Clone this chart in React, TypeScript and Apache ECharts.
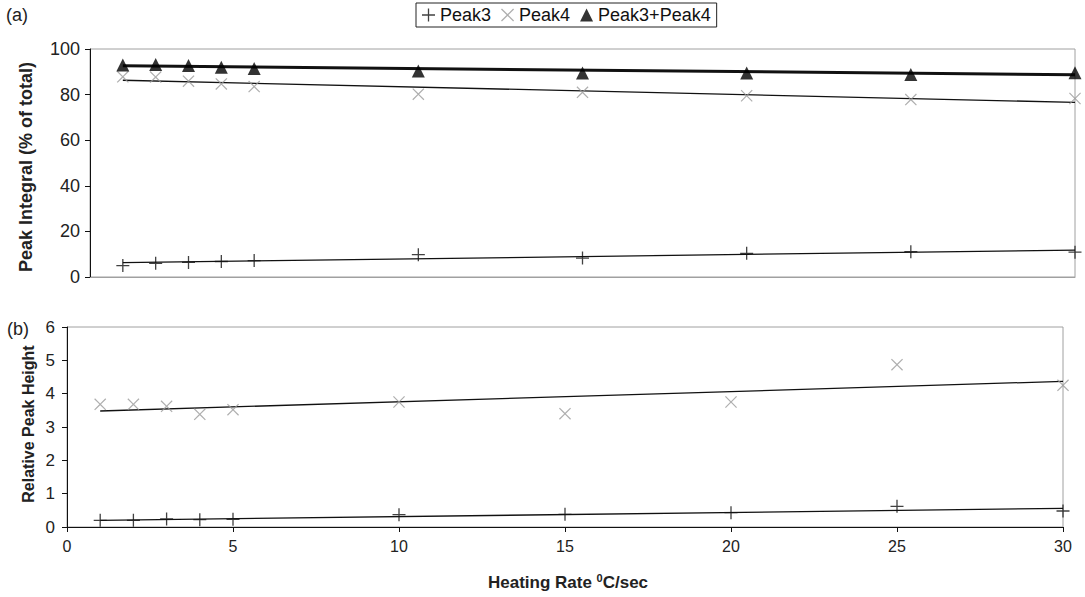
import React, { useEffect, useRef } from "react";
import * as echarts from "echarts";

// Heating rates (°C/sec)
const rates = [1, 2, 3, 4, 5, 10, 15, 20, 25, 30];

// (a) Peak integral (% of total)
const peak3Integral = [5.0, 6.0, 6.4, 6.8, 7.2, 9.8, 8.3, 10.4, 11.1, 10.9];
const peak4Integral = [87.8, 87.7, 85.9, 84.7, 83.5, 80.2, 81.0, 79.5, 77.8, 78.3];
const sumIntegral = [93.0, 93.2, 92.8, 92.0, 91.4, 90.3, 89.5, 89.5, 88.8, 89.6];

// (a) trendline end points [x, y]
const peak3IntegralTrend = [[1, 6.3], [30, 11.8]];
const peak4IntegralTrend = [[1, 86.3], [30, 76.6]];
const sumIntegralTrend = [[1, 92.6], [30, 88.7]];

// (b) Relative peak height
const peak3Height = [0.2, 0.2, 0.24, 0.22, 0.23, 0.37, 0.38, 0.43, 0.62, 0.48];
const peak4Height = [3.68, 3.68, 3.62, 3.38, 3.52, 3.75, 3.4, 3.75, 4.87, 4.25];

// (b) trendline end points [x, y]
const peak3HeightTrend = [[1, 0.2], [30, 0.56]];
const peak4HeightTrend = [[1, 3.48], [30, 4.37]];

const seriesNames = ["Peak3", "Peak4", "Peak3+Peak4"];

const PLUS =
  "path://M-0.1,-1L0.1,-1L0.1,-0.1L1,-0.1L1,0.1L0.1,0.1L0.1,1L-0.1,1L-0.1,0.1L-1,0.1L-1,-0.1L-0.1,-0.1Z";
const CROSS =
  "path://M-1,-0.86L-0.86,-1L0,-0.14L0.86,-1L1,-0.86L0.14,0L1,0.86L0.86,1L0,0.14L-0.86,1L-1,0.86L-0.14,0Z";

const FONT = "'Liberation Sans', Arial, Helvetica, sans-serif";
const GRAY = "#a0a0a0";
const CROSS_GRAY = "#9a9a9a";

const zip = (xs: number[], ys: number[]) => xs.map((x, i) => [x, ys[i]]);

export default function App() {
  const ref = useRef<HTMLDivElement>(null);

  useEffect(() => {
    if (!ref.current) return;
    const chart = echarts.init(ref.current, null, { renderer: "svg" });

    const trend = (data: number[][], xi: number, width: number) => ({
      type: "line",
      xAxisIndex: xi,
      yAxisIndex: xi,
      data,
      symbol: "none",
      silent: true,
      lineStyle: { color: "#111", width },
      z: 2,
    });

    chart.setOption({
      animation: false,
      textStyle: { fontFamily: FONT },
      legend: {
        top: 3,
        left: 416,
        data: seriesNames,
        borderColor: "#222",
        borderWidth: 1,
        borderRadius: 0,
        padding: [3, 6, 3, 6],
        itemGap: 10,
        itemWidth: 13,
        itemHeight: 13,
        textStyle: { fontFamily: FONT, fontSize: 18, color: "#111" },
      },
      grid: [
        { left: 90, top: 49, right: 10, height: 228, show: true, borderColor: GRAY, borderWidth: 1 },
        { left: 67, top: 327, right: 22, height: 200, show: true, borderColor: GRAY, borderWidth: 1 },
      ],
      xAxis: [
        {
          type: "value",
          gridIndex: 0,
          min: 0,
          max: 30,
          interval: 5,
          axisLine: { show: true, lineStyle: { color: GRAY } },
          axisTick: { show: false },
          axisLabel: { show: false },
          splitLine: { show: false },
        },
        {
          type: "value",
          gridIndex: 1,
          min: 0,
          max: 30,
          interval: 5,
          axisLine: { show: true, onZero: false, lineStyle: { color: "#111" } },
          axisTick: { show: true, length: 5, lineStyle: { color: "#111" } },
          axisLabel: { fontSize: 16, color: "#222", margin: 11, fontFamily: FONT },
          splitLine: { show: false },
        },
      ],
      yAxis: [
        {
          type: "value",
          gridIndex: 0,
          min: 0,
          max: 100,
          interval: 20,
          axisLine: { show: true, lineStyle: { color: "#111" } },
          axisTick: { show: true, length: 5, lineStyle: { color: "#111" } },
          axisLabel: { fontSize: 18, color: "#222", margin: 10, fontFamily: FONT },
          splitLine: { show: false },
        },
        {
          type: "value",
          gridIndex: 1,
          min: 0,
          max: 6,
          interval: 1,
          axisLine: { show: true, lineStyle: { color: "#111" } },
          axisTick: { show: true, length: 5, lineStyle: { color: "#111" } },
          axisLabel: { fontSize: 17, color: "#222", margin: 12, fontFamily: FONT },
          splitLine: { show: false },
        },
      ],
      graphic: [
        {
          type: "text",
          x: 6,
          y: 15,
          style: { text: "(a)", font: `18px ${FONT}`, fill: "#222", verticalAlign: "middle" },
        },
        {
          type: "text",
          x: 7,
          y: 329,
          style: { text: "(b)", font: `18px ${FONT}`, fill: "#222", verticalAlign: "middle" },
        },
        {
          type: "text",
          x: 26,
          y: 167,
          rotation: Math.PI / 2,
          style: {
            text: "Peak Integral (% of total)",
            font: `bold 18px ${FONT}`,
            fill: "#222",
            align: "center",
            verticalAlign: "middle",
          },
        },
        {
          type: "text",
          x: 28,
          y: 424,
          rotation: Math.PI / 2,
          style: {
            text: "Relative Peak Height",
            font: `bold 16px ${FONT}`,
            fill: "#222",
            align: "center",
            verticalAlign: "middle",
          },
        },
        {
          type: "text",
          x: 568,
          y: 582,
          style: {
            text: "{b|Heating Rate }{s|0}{b|C/sec}",
            align: "center",
            verticalAlign: "middle",
            rich: {
              b: { fontFamily: FONT, fontWeight: "bold", fontSize: 17, fill: "#222", color: "#222" },
              s: {
                fontFamily: FONT,
                fontWeight: "bold",
                fontSize: 11,
                fill: "#222",
                color: "#222",
                verticalAlign: "top",
                padding: [0, 0, 9, 0],
              },
            },
          },
        },
      ],
      series: [
        trend(peak3IntegralTrend, 0, 1.3),
        trend(peak4IntegralTrend, 0, 1.3),
        trend(sumIntegralTrend, 0, 3),
        trend(peak3HeightTrend, 1, 1.3),
        trend(peak4HeightTrend, 1, 1.3),
        {
          name: "Peak3",
          type: "scatter",
          xAxisIndex: 0,
          yAxisIndex: 0,
          data: zip(rates, peak3Integral),
          symbol: PLUS,
          symbolSize: 13,
          itemStyle: { color: "#111" },
          z: 3,
        },
        {
          name: "Peak4",
          type: "scatter",
          xAxisIndex: 0,
          yAxisIndex: 0,
          data: zip(rates, peak4Integral),
          symbol: CROSS,
          symbolSize: 12,
          itemStyle: { color: CROSS_GRAY },
          z: 3,
        },
        {
          name: "Peak3+Peak4",
          type: "scatter",
          xAxisIndex: 0,
          yAxisIndex: 0,
          data: zip(rates, sumIntegral),
          symbol: "triangle",
          symbolSize: 13,
          itemStyle: { color: "#000" },
          z: 3,
        },
        {
          name: "Peak3 height",
          type: "scatter",
          xAxisIndex: 1,
          yAxisIndex: 1,
          data: zip(rates, peak3Height),
          symbol: PLUS,
          symbolSize: 13,
          itemStyle: { color: "#111" },
          z: 3,
        },
        {
          name: "Peak4 height",
          type: "scatter",
          xAxisIndex: 1,
          yAxisIndex: 1,
          data: zip(rates, peak4Height),
          symbol: CROSS,
          symbolSize: 12,
          itemStyle: { color: CROSS_GRAY },
          z: 3,
        },
      ],
    });

    return () => chart.dispose();
  }, []);

  return (
    <div
      ref={ref}
      style={{ position: "fixed", left: 0, top: 0, width: 1085, height: 597, background: "#fff" }}
    />
  );
}
